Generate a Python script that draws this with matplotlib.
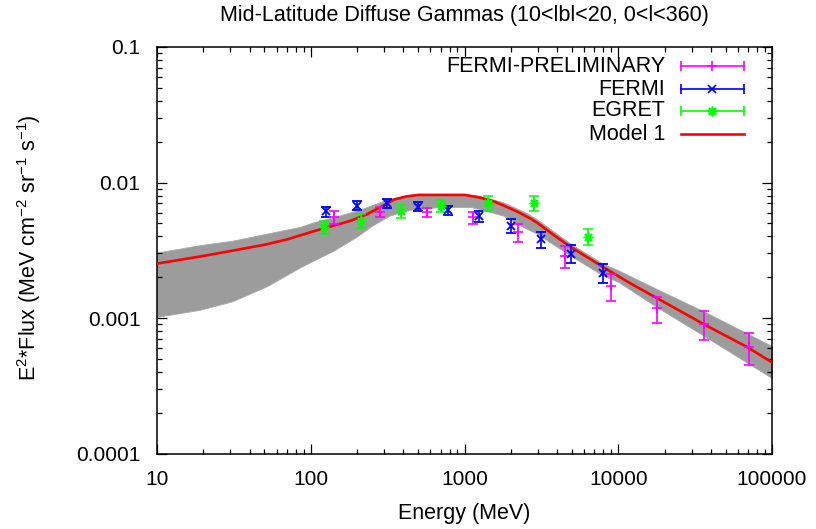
import matplotlib
matplotlib.use("Agg")
import matplotlib.pyplot as plt
from matplotlib.ticker import LogLocator, NullFormatter

plt.rcParams['font.family'] = ['Liberation Sans', 'DejaVu Sans']
plt.rcParams['mathtext.fontset'] = 'custom'
plt.rcParams['mathtext.rm'] = 'Liberation Sans'
plt.rcParams['mathtext.it'] = 'Liberation Sans:italic'
plt.rcParams['mathtext.default'] = 'regular'

# ---------------- data ----------------
# FERMI-PRELIMINARY (magenta)
fp_E = [142, 282, 570, 1135, 2230, 4510, 8970, 17900, 36100, 71300]
fp_F = [0.00553, 0.00610, 0.00604, 0.00553, 0.00429, 0.00287, 0.00172, 0.00118, 0.000908, 0.000609]
fp_err = [0.00063, 0.00052, 0.00043, 0.00055, 0.00067, 0.00053, 0.00038, 0.00026, 0.00022, 0.00016]

# FERMI (blue)
fe_E = [126, 200, 313, 499, 782, 1242, 2005, 3144, 4932, 7962]
fe_F = [0.00612, 0.00675, 0.00703, 0.00664, 0.00627, 0.00564, 0.00480, 0.00382, 0.00299, 0.00216]
fe_err = [0.00052, 0.00052, 0.00052, 0.00051, 0.00048, 0.00051, 0.00057, 0.00051, 0.00044, 0.00036]

# EGRET (green)
eg_E = [122, 212, 387, 707, 1414, 2828, 6325]
eg_F = [0.00467, 0.00523, 0.00614, 0.00675, 0.00706, 0.00706, 0.00397]
eg_err = [0.00049, 0.00060, 0.00070, 0.00073, 0.00090, 0.00090, 0.00053]

# Model 1 (red)
m_E = [10, 20, 30, 50, 70, 100, 122, 150, 180, 230, 300, 350, 420, 500, 1000,
       1250, 1550, 1800, 2200, 2700, 3000, 3800, 4800, 6000, 8800, 12000, 17900,
       36000, 69000, 100000]
m_F = [0.00252, 0.00287, 0.00312, 0.00347, 0.00380, 0.00430, 0.00460, 0.00490,
       0.00520, 0.00580, 0.00680, 0.00750, 0.00790, 0.00810, 0.00810, 0.00775,
       0.00725, 0.00675, 0.00610, 0.00540, 0.00500, 0.00410, 0.00340, 0.00290,
       0.00222, 0.00180, 0.00140, 0.00090, 0.00061, 0.00047]

# grey model envelope (upper / lower)
b_E = [10, 19, 31, 52, 85, 104, 140, 200, 250, 325, 443, 700, 1087, 1300, 1786,
       2500, 2944, 4854, 8000, 10000, 17900, 36000, 100000]
b_hi = [0.00304, 0.00345, 0.00372, 0.00420, 0.00470, 0.00508, 0.00555, 0.00620,
        0.00680, 0.00760, 0.00810, 0.00820, 0.00815, 0.00790, 0.00714, 0.00600,
        0.00537, 0.00356, 0.00250, 0.00225, 0.00163, 0.00112, 0.00062]
b_lo = [0.00102, 0.00115, 0.00133, 0.00172, 0.00236, 0.00265, 0.00313, 0.00400,
        0.00480, 0.00570, 0.00630, 0.00660, 0.00660, 0.00630, 0.00570, 0.00460,
        0.00420, 0.00290, 0.00205, 0.00185, 0.00120, 0.00074, 0.00036]

x_ticks = [10, 100, 1000, 10000, 100000]
x_labels = ['10', '100', '1000', '10000', '100000']
y_ticks = [0.0001, 0.001, 0.01, 0.1]
y_labels = ['0.0001', '0.001', '0.01', '0.1']

series_labels = ['FERMI-PRELIMINARY', 'FERMI', 'EGRET', 'Model 1']
colors = ['#ff00ff', '#0000ff', '#00ff00', '#ff0000']

# ---------------- figure ----------------
fig = plt.figure(figsize=(8.16, 5.29), dpi=100)
W, H = 816, 529
L, R, T, B = 157, 772, 47, 453.5
ax = fig.add_axes([L / W, 1 - B / H, (R - L) / W, (B - T) / H])
ax.set_xscale('log')
ax.set_yscale('log')

ax.fill_between(b_E, b_lo, b_hi, color='#9c9c9c', lw=0.6, edgecolor='#a8a8a8', zorder=1)
ax.plot(m_E, m_F, color=colors[3], lw=1.9, zorder=3)

ekw = dict(ls='none', elinewidth=1.2, capsize=3.6, capthick=1.2, zorder=4)
ax.errorbar(fp_E, fp_F, yerr=fp_err, color=colors[0], marker='+', ms=7, mew=1.2, **ekw)
ax.errorbar(fe_E, fe_F, yerr=fe_err, color=colors[1], marker='x', ms=6, mew=1.3, **ekw)
ax.errorbar(eg_E, eg_F, yerr=eg_err, color=colors[2], marker=(8, 2, 0), ms=7, mew=1.1, **ekw)

ax.set_xlim(10, 100000)
ax.set_ylim(0.0001, 0.1)
ax.set_xticks(x_ticks)
ax.set_xticklabels(x_labels)
ax.set_yticks(y_ticks)
ax.set_yticklabels(y_labels)
ax.xaxis.set_minor_locator(LogLocator(base=10, subs=range(2, 10), numticks=20))
ax.yaxis.set_minor_locator(LogLocator(base=10, subs=range(2, 10), numticks=20))
ax.xaxis.set_minor_formatter(NullFormatter())
ax.yaxis.set_minor_formatter(NullFormatter())
ax.tick_params(which='both', direction='in', top=True, right=True, width=0.9, color='black')
ax.tick_params(which='major', length=7, labelsize=15, pad=12)
ax.tick_params(which='minor', length=3.8)
for s in ax.spines.values():
    s.set_linewidth(1.1)

ax.set_xlabel('Energy (MeV)', fontsize=15.5)
ax.xaxis.set_label_coords(0.5, (B - 513) / (B - T))
ax.xaxis.label.set_va('center')
ax.set_ylabel(r'E$^{2}$*Flux (MeV cm$^{-2}$ sr$^{-1}$ s$^{-1}$)', fontsize=15.5)
ax.yaxis.set_label_coords((29 - L) / (R - L), (B - 248) / (B - T))
ax.yaxis.label.set_va('center')

ax.text(0.5, (B - 20.7) / (B - T), 'Mid-Latitude Diffuse Gammas (10<lbl<20, 0<l<360)',
        transform=ax.transAxes, ha='center', va='baseline', fontsize=15.5)

# legend (right-aligned text, gnuplot style)
rows_px = [66, 89.3, 111, 134]
tx = (665 - L) / (R - L)
hx0 = (681 - L) / (R - L)
hx1 = (744.3 - L) / (R - L)
hxm = (712.3 - L) / (R - L)
markers = ['+', 'x', (8, 2, 0), None]
for lab, col, mk, py in zip(series_labels, colors, markers, rows_px):
    yy = (B - py) / (B - T)
    ax.text(tx, yy, lab, transform=ax.transAxes, ha='right', va='center', fontsize=15.5)
    if mk is None:
        ax.plot([hx0, hx1], [yy, yy], color=col, lw=1.9, transform=ax.transAxes, clip_on=False)
    else:
        ax.plot([hx0, hx1], [yy, yy], color=col, lw=1.2, transform=ax.transAxes, clip_on=False)
        ax.plot([hx0, hx1], [yy, yy], ls='none', marker='|', ms=7, mew=1.2, color=col,
                transform=ax.transAxes, clip_on=False)
        ax.plot([hxm], [yy], ls='none', marker=mk, ms=7 if mk != 'x' else 6, mew=1.2, color=col,
                transform=ax.transAxes, clip_on=False)

fig.savefig('out.png', dpi=100)
